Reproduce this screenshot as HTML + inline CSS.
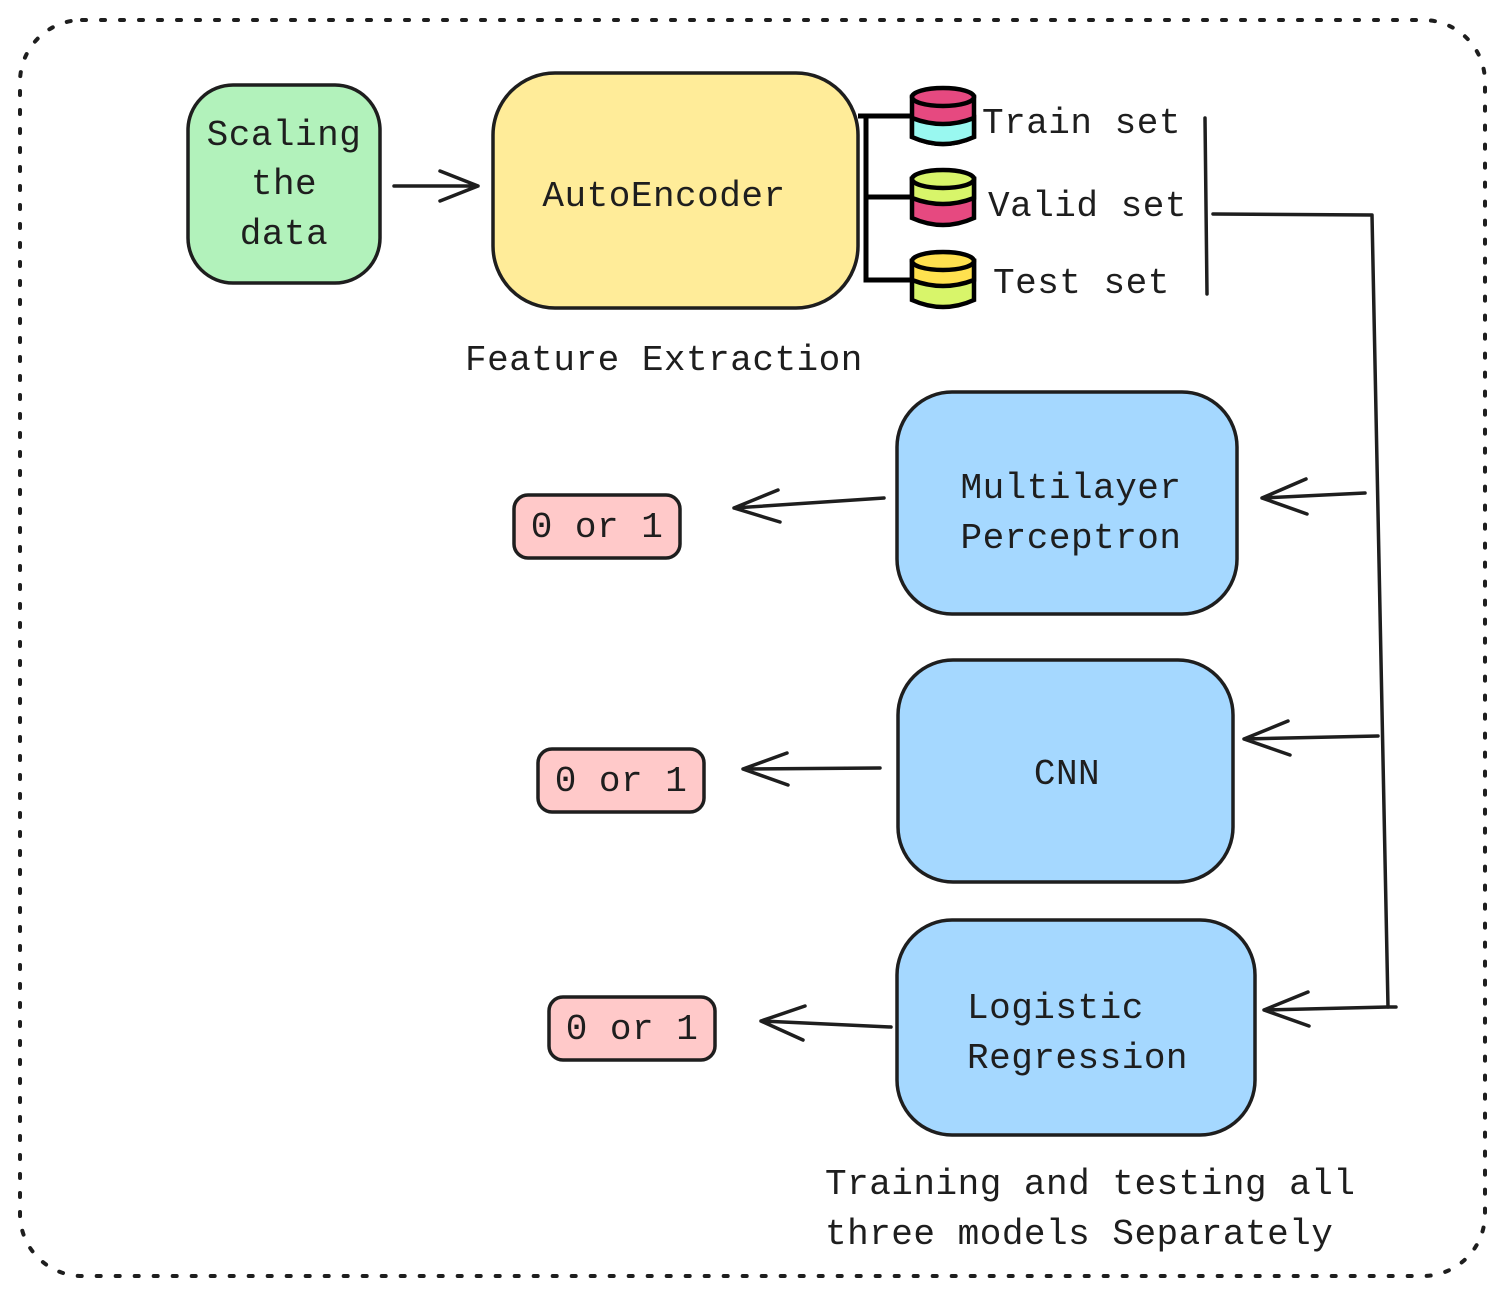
<!DOCTYPE html>
<html><head><meta charset="utf-8"><style>
html,body{margin:0;padding:0;background:#fff;}
svg{display:block;}
text{font-family:"Liberation Mono",monospace;font-size:36px;fill:#1e1e1e;letter-spacing:0.5px;}
</style></head><body>
<svg width="1505" height="1296" viewBox="0 0 1505 1296" xmlns="http://www.w3.org/2000/svg">
<rect x="20" y="20" width="1465" height="1256" rx="62" fill="none" stroke="#1e1e1e" stroke-width="4" stroke-dasharray="4 15" stroke-linecap="round"/>
<g stroke="#1e1e1e" stroke-width="3.5" stroke-linecap="round" stroke-linejoin="round">
<rect x="188" y="85" width="192" height="198" rx="45" fill="#b2f2bb"/>
<rect x="493" y="73" width="365" height="235" rx="62" fill="#ffec99"/>
<rect x="897" y="392" width="340" height="222" rx="55" fill="#a5d8ff"/>
<rect x="898" y="660" width="335" height="222" rx="55" fill="#a5d8ff"/>
<rect x="897" y="920" width="358" height="215" rx="55" fill="#a5d8ff"/>
<rect x="514" y="495" width="166" height="63" rx="14" fill="#ffc9c9"/>
<rect x="538" y="749" width="166" height="63" rx="14" fill="#ffc9c9"/>
<rect x="549" y="997" width="166" height="63" rx="14" fill="#ffc9c9"/>
<g fill="none">
<path d="M394 186 L478 186 M440 171 L478 186 L440 201"/>
<path d="M1205 118 L1207 294"/>
<path d="M1213 214 L1372 215 L1388 1007 L1396 1007"/>
<path d="M1365 493 L1262 498 M1306 479 L1262 498 L1307 514"/>
<path d="M1378 736 L1244 739 M1288 721 L1244 739 L1290 755"/>
<path d="M1388 1007 L1264 1010 M1308 992 L1264 1010 L1309 1026"/>
<path d="M884 498 L734 508 M778 490 L734 508 L780 522"/>
<path d="M880 768 L743 769 M787 753 L743 769 L788 785"/>
<path d="M891 1027 L761 1021 M805 1006 L761 1021 L803 1040"/>
</g>
</g>
<g stroke="#000" stroke-width="5" fill="none">
<path d="M858 116 L866 116 L866 280 L912 280 M866 197 L912 197 M866 116 L912 116"/>
</g>
<g stroke="#000" stroke-width="4.5">
<path d="M912 97 L912 137 Q943 151 974 137 L974 97 Z" fill="#e64980"/>
<path d="M912 118 L912 137 Q943 151 974 137 L974 118 Q943 130 912 118Z" fill="#99f8f0"/>
<ellipse cx="943" cy="97" rx="31" ry="9" fill="#e64980"/>
<path d="M912 179 L912 218 Q943 232 974 218 L974 179 Z" fill="#e64980"/>
<path d="M912 179 L912 198 Q943 210 974 198 L974 179 Z" fill="#d8f56a"/>
<ellipse cx="943" cy="179" rx="31" ry="9" fill="#d8f56a"/>
<path d="M912 261 L912 300 Q943 314 974 300 L974 261 Z" fill="#d8f56a"/>
<path d="M912 261 L912 280 Q943 292 974 280 L974 261 Z" fill="#ffe14f"/>
<ellipse cx="943" cy="261" rx="31" ry="9" fill="#ffe14f"/>
</g>
<g text-anchor="middle">
<text x="284" y="145">Scaling</text>
<text x="284" y="194">the</text>
<text x="284" y="244">data</text>
<text x="664" y="206">AutoEncoder</text>
<text x="1071" y="498">Multilayer</text>
<text x="1071" y="548">Perceptron</text>
<text x="1067" y="784">CNN</text>
<text x="597" y="537">0 or 1</text>
<text x="621" y="791">0 or 1</text>
<text x="632" y="1039">0 or 1</text>
</g>
<text x="982" y="133">Train set</text>
<text x="988" y="216">Valid set</text>
<text x="993" y="293">Test set</text>
<text x="465" y="370">Feature Extraction</text>
<text x="967" y="1018">Logistic</text>
<text x="967" y="1068">Regression</text>
<text x="825" y="1194">Training and testing all</text>
<text x="825" y="1244">three models Separately</text>
</svg>
</body></html>
